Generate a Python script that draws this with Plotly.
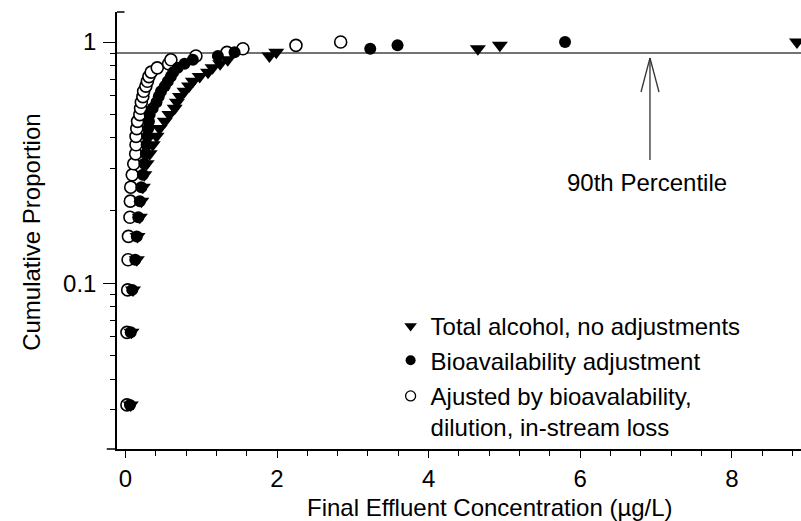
import plotly.graph_objects as go

# Cumulative proportion (plotting positions i/32)
n_points = 32
cum_prop = [i / n_points for i in range(1, n_points + 1)]

# Final effluent concentration (ug/L), sorted, one per rank
total_alcohol = [0.07, 0.08, 0.10, 0.15, 0.16, 0.19, 0.21, 0.23, 0.25, 0.28,
                 0.32, 0.36, 0.41, 0.45, 0.52, 0.58, 0.65, 0.68, 0.72, 0.78,
                 0.84, 0.89, 0.98, 1.09, 1.15, 1.25, 1.35, 1.90, 1.99, 4.65,
                 4.94, 8.86]
bioavail = [0.06, 0.07, 0.09, 0.13, 0.15, 0.17, 0.19, 0.21, 0.23, 0.25,
            0.27, 0.28, 0.29, 0.30, 0.31, 0.32, 0.36, 0.41, 0.44, 0.47,
            0.52, 0.56, 0.60, 0.63, 0.69, 0.78, 0.89, 1.22, 1.44, 3.23,
            3.59, 5.80]
adjusted = [0.02, 0.02, 0.03, 0.035, 0.04, 0.06, 0.065, 0.07, 0.09, 0.11,
            0.135, 0.14, 0.14, 0.15, 0.16, 0.19, 0.20, 0.21, 0.23, 0.24,
            0.27, 0.29, 0.31, 0.34, 0.42, 0.57, 0.60, 0.93, 1.34, 1.55,
            2.25, 2.84]

series_names = ["Total alcohol, no adjustments",
                "Bioavailability adjustment",
                "Ajusted by bioavalability,<br>dilution, in-stream loss"]
percentile_level = 0.9
percentile_label = "90th Percentile"
x_title = "Final Effluent Concentration (µg/L)"
y_title = "Cumulative Proportion"
x_ticks = [0, 2, 4, 6, 8]
y_ticks = [0.1, 1]
y_ticktext = ["0.1", "1"]

FONT = "Liberation Sans, Arial, Helvetica, sans-serif"

fig = go.Figure()

# data traces (open circles drawn underneath)
fig.add_trace(go.Scatter(x=adjusted, y=cum_prop, mode="markers", showlegend=False,
                         marker=dict(symbol="circle", size=12, color="white",
                                     line=dict(color="black", width=1.6)),
                         cliponaxis=False))
fig.add_trace(go.Scatter(x=bioavail, y=cum_prop, mode="markers", showlegend=False,
                         marker=dict(symbol="circle", size=12, color="black",
                                     line=dict(color="black", width=0)),
                         cliponaxis=False))
fig.add_trace(go.Scatter(x=total_alcohol, y=cum_prop, mode="markers", showlegend=False,
                         marker=dict(symbol="triangle-down", size=14, color="black",
                                     line=dict(color="black", width=0)),
                         cliponaxis=False))

# legend entries
fig.add_trace(go.Scatter(x=[None], y=[None], mode="markers", name=series_names[0],
                         legend="legend",
                         marker=dict(symbol="triangle-down", size=11, color="black")))
fig.add_trace(go.Scatter(x=[None], y=[None], mode="markers", name=series_names[1],
                         legend="legend",
                         marker=dict(symbol="circle", size=10, color="black")))
fig.add_trace(go.Scatter(x=[None], y=[None], mode="markers", name=series_names[2],
                         legend="legend2",
                         marker=dict(symbol="circle", size=10, color="white",
                                     line=dict(color="black", width=1.3))))

# 90th percentile reference line
fig.add_hline(y=percentile_level, line=dict(color="#444", width=1.5), layer="below")

# arrow (open head drawn with lines) in paper coordinates
arrow_col = "#333"
fig.add_shape(type="line", xref="paper", yref="paper", x0=0.7792, x1=0.7792,
              y0=0.6613, y1=0.8947, line=dict(color=arrow_col, width=1.3))
fig.add_shape(type="line", xref="paper", yref="paper", x0=0.7661, x1=0.7792,
              y0=0.8169, y1=0.8947, line=dict(color=arrow_col, width=1.3))
fig.add_shape(type="line", xref="paper", yref="paper", x0=0.7924, x1=0.7792,
              y0=0.8169, y1=0.8947, line=dict(color=arrow_col, width=1.3))
fig.add_annotation(text=percentile_label, xref="paper", yref="paper",
                   x=0.7749, y=0.6087, xanchor="center", yanchor="middle",
                   showarrow=False, font=dict(family=FONT, size=24, color="black"))

# axis titles
fig.add_annotation(text=x_title, xref="paper", yref="paper", x=0.545, y=-0.134,
                   xanchor="center", yanchor="middle", showarrow=False,
                   font=dict(family=FONT, size=24, color="black"))
fig.add_annotation(text=y_title, xref="paper", yref="paper", x=-0.124, y=0.495,
                   textangle=-90, xanchor="center", yanchor="middle", showarrow=False,
                   font=dict(family=FONT, size=24, color="black"))

# small extension of the x axis line to the left, and top cap of y axis
fig.add_shape(type="line", xref="paper", yref="paper", x0=-0.015, x1=0, y0=0, y1=0,
              line=dict(color="black", width=1.5))
fig.add_shape(type="line", xref="paper", yref="paper", x0=0, x1=0.011, y0=1, y1=1,
              line=dict(color="black", width=1.5))

legend_common = dict(xanchor="left", yanchor="top", bgcolor="rgba(0,0,0,0)",
                     font=dict(family=FONT, size=24, color="black"),
                     valign="top", tracegroupgap=0, itemsizing="trace")

fig.update_layout(
    width=801, height=521,
    margin=dict(l=117, r=0, t=12, b=72),
    plot_bgcolor="white", paper_bgcolor="white",
    font=dict(family=FONT, size=24, color="black"),
    legend=dict(x=0.40, y=0.332, **legend_common),
    legend2=dict(x=0.40, y=0.172, **legend_common),
    xaxis=dict(range=[-0.111, 8.913], showgrid=False, zeroline=False,
               showline=True, linecolor="black", linewidth=1.5,
               ticks="outside", ticklen=7, tickwidth=1.3, tickcolor="black",
               tickvals=x_ticks, tickfont=dict(family=FONT, size=24),
               ticklabelstandoff=0,
               minor=dict(dtick=0.4, tick0=0, ticks="outside", ticklen=5,
                          tickwidth=1.3, tickcolor="black", showgrid=False)),
    yaxis=dict(type="log", range=[-1.688, 0.1245], showgrid=False, zeroline=False,
               showline=True, linecolor="black", linewidth=1.5,
               ticks="outside", ticklen=12, tickwidth=1.3, tickcolor="black",
               tickvals=y_ticks, ticktext=y_ticktext, tickfont=dict(family=FONT, size=24),
               ticklabelstandoff=2,
               minor=dict(tickvals=[0.03, 0.04, 0.05, 0.06, 0.07, 0.08, 0.09,
                                    0.2, 0.3, 0.4, 0.5, 0.6, 0.7, 0.8, 0.9],
                          ticks="outside", ticklen=5, tickwidth=1.3,
                          tickcolor="black", showgrid=False)),
)

fig.write_html("out.html")
